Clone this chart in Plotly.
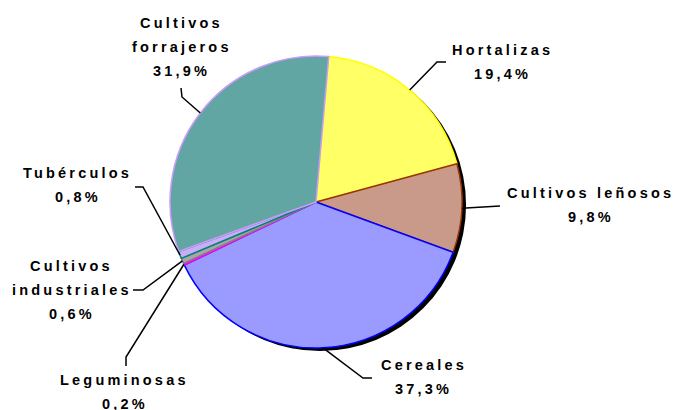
import math

import plotly.graph_objects as go

W, H = 677, 410

categories = ["Hortalizas", "Cultivos leñosos", "Cereales", "Leguminosas",
              "Cultivos industriales", "Tubérculos", "Cultivos forrajeros"]
values = [19.4, 9.8, 37.3, 0.2, 0.6, 0.8, 31.9]
label_lines = [["Hortalizas"], ["Cultivos leñosos"], ["Cereales"], ["Leguminosas"],
               ["Cultivos", "industriales"], ["Tubérculos"], ["Cultivos", "forrajeros"]]

fill_colors = ["#FFFF66", "#C99A8A", "#9A9AFF", "#FF00FF", "#A6A6A6", "#C9AEF5", "#62A6A4"]
line_colors = ["#FFFF00", "#993300", "#0000FF", "#FF00FF", "#808080", "#008080", "#CC99FF"]

# pie geometry in pixels
CX, CY, R = 316, 202, 146
ROTATION = 5

# label placement: centre x, first line centre y (px)
label_pos = [(501, 50), (589, 193), (422, 365), (123, 380), (70, 266), (76, 173), (180, 23)]
LINE_STEP = 24
# leader line points after the tip on the pie edge (px)
leader_pts = [
    [(437, 62), (446, 62)],
    [(500, 206)],
    [(363, 378), (372, 378)],
    [(126, 357), (126, 366)],
    [(143, 290), (133, 290)],
    [(143, 187), (135, 187)],
    [(182, 97), (181, 88)],
]


def px(x):
    return x / W


def py(y):
    return 1 - y / H


def pct(v):
    return f"{v:.1f}".replace(".", ",") + "%"


def spaced(s):
    return f'<span style="letter-spacing:3.2px">{s}</span>'


fig = go.Figure()

# drop shadow
fig.add_pie(
    values=[1], marker=dict(colors=["#000000"], line=dict(width=0)),
    textinfo="none", hoverinfo="skip", showlegend=False, sort=False,
    domain=dict(x=[px(CX - R + 4), px(CX + R + 4)], y=[py(CY + R + 3), py(CY - R + 3)]),
)

fig.add_pie(
    labels=categories, values=values, sort=False, direction="clockwise",
    rotation=ROTATION, textinfo="none", showlegend=False,
    marker=dict(colors=fill_colors, line=dict(color=line_colors, width=1.5)),
    domain=dict(x=[px(CX - R), px(CX + R)], y=[py(CY + R), py(CY - R)]),
)

total = sum(values)
cum = 0.0
shapes, annotations = [], []
for i, v in enumerate(values):
    mid = math.radians(ROTATION + 360 * (cum + v / 2) / total)
    cum += v
    tip = (CX + R * math.sin(mid), CY - R * math.cos(mid))
    pts = [tip] + leader_pts[i]
    path = "M " + " L ".join(f"{px(x):.5f},{py(y):.5f}" for x, y in pts)
    shapes.append(dict(type="path", path=path, xref="paper", yref="paper",
                       line=dict(color="black", width=1.5)))

    x0, y0 = label_pos[i]
    lines = label_lines[i] + [pct(v)]
    for j, t in enumerate(lines):
        annotations.append(dict(
            text=spaced(t), x=px(x0 + 1.6), y=py(y0 + j * LINE_STEP),
            xref="paper", yref="paper", xanchor="center", yanchor="middle",
            showarrow=False,
            font=dict(family="Liberation Sans, Arial, sans-serif", size=14.5,
                      color="black", weight="bold"),
        ))

fig.update_layout(
    width=W, height=H, margin=dict(l=0, r=0, t=0, b=0),
    paper_bgcolor="white", plot_bgcolor="white",
    shapes=shapes, annotations=annotations,
)

fig.write_html("out.html", config={"displayModeBar": False},
               post_script="document.body.style.margin = '0';")
